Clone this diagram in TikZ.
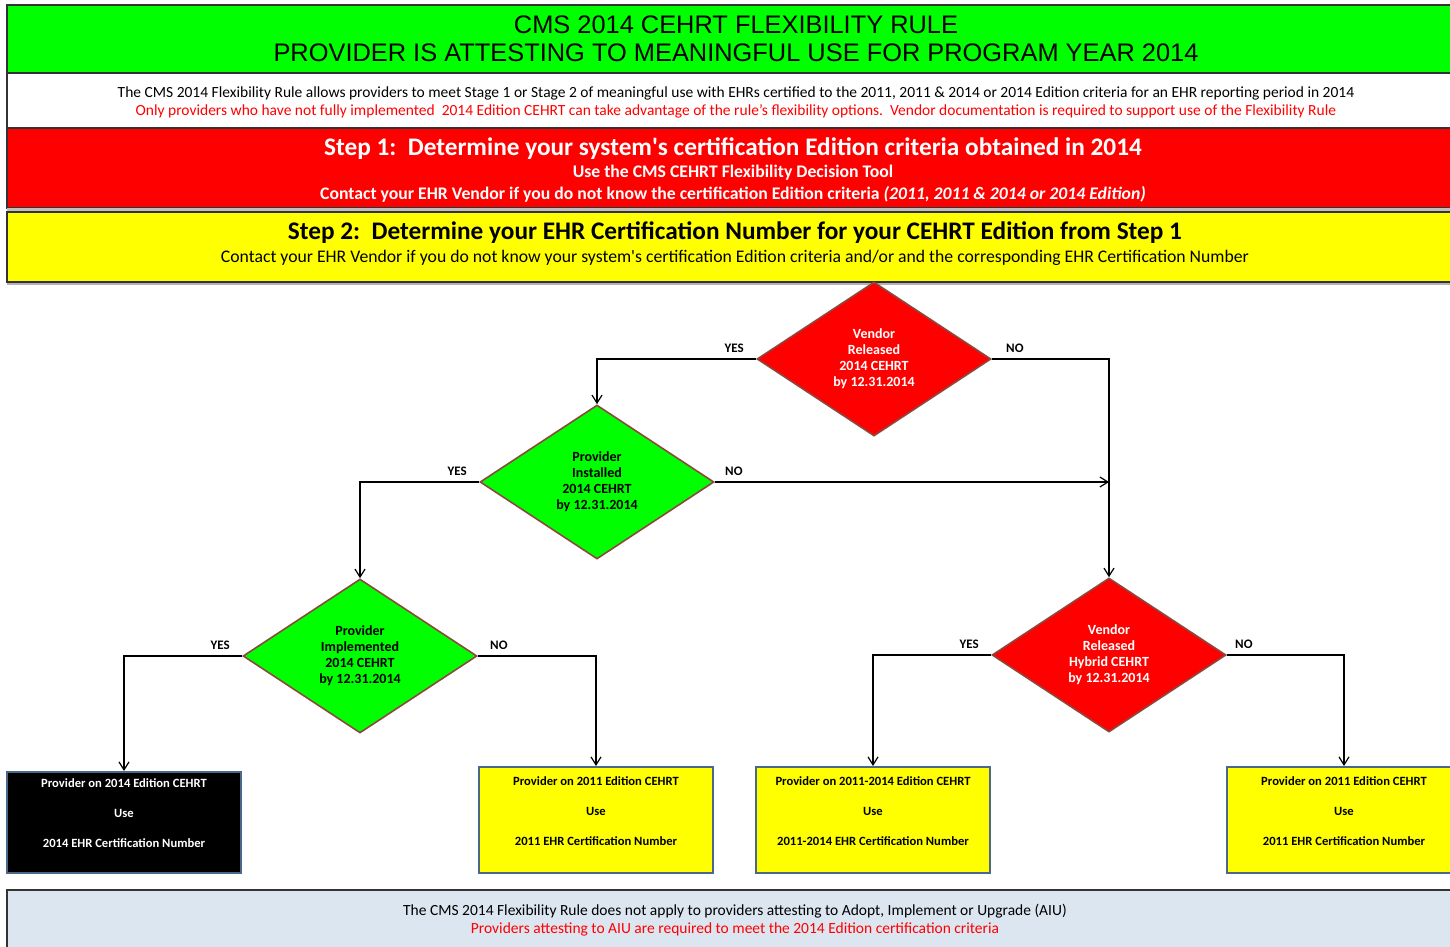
\documentclass[tikz,border=0pt]{standalone}
\usepackage{fontspec}
\setmainfont{Carlito}
\newfontfamily\headfont{Liberation Sans}
\usepackage{tikz}
\usetikzlibrary{arrows.meta,positioning,shapes.geometric}
\definecolor{cgreen}{RGB}{0,255,0}
\definecolor{cred}{RGB}{255,0,0}
\definecolor{cyellow}{RGB}{255,255,0}
\definecolor{footfill}{RGB}{220,230,241}
\definecolor{boxborder}{RGB}{74,104,140}
\definecolor{diaborder}{RGB}{140,72,62}
\newcommand{\fs}[2]{\fontsize{#1}{#2}\selectfont}

\begin{document}
\begin{tikzpicture}[x=0.5pt, y=-0.5pt,
    band/.style={draw=black!80, line width=0.8pt},
    decision/.style={diamond, draw=diaborder, line width=0.8pt, inner sep=0pt,
        minimum width=117pt, minimum height=77pt, aspect=1.52, align=center,
        font=\fs{7}{8}\bfseries},
    outbox/.style={rectangle, draw=boxborder, line width=1pt, minimum width=117pt, minimum height=53pt},
    boxtext/.style={align=center, font=\fs{6.3}{15}\bfseries},
    yn/.style={font=\fs{6.5}{8}\bfseries, inner sep=0pt},
    flow/.style={line width=0.6pt, -{Straight Barb[length=4pt,width=5pt]}}]
    \useasboundingbox (0,0) rectangle (1450,947);

    % title
    \fill[white] (0,0) rectangle (1450,947);
    \draw[band, fill=cgreen] (7,5) rectangle (1465,73);
    \node[font=\headfont\fs{12.7}{14}, align=center] (title) at (736,39)
        {CMS 2014 CEHRT FLEXIBILITY RULE\\PROVIDER IS ATTESTING TO MEANINGFUL USE FOR PROGRAM YEAR 2014};

    % intro
    \draw[band, fill=white] (7,73) rectangle (1465,128);
    \node[font=\fs{7.75}{9}, align=center] (intro) at (736,102)
        {The CMS 2014 Flexibility Rule allows providers to meet Stage 1 or Stage 2 of meaningful use with EHRs certified to the 2011, 2011 \& 2014 or 2014 Edition criteria for an EHR reporting period in 2014\\
        \textcolor{cred}{Only providers who have not fully implemented\ \ 2014 Edition CEHRT can take advantage of the rule's flexibility options.\ \ Vendor documentation is required to support use of the Flexibility Rule}};

    % Step 1
    \draw[band, fill=cred] (7,128) rectangle (1465,208);
    \node[font=\fs{12.65}{14}\bfseries, text=white] (step1) at (733,149)
        {Step 1:\ \ Determine your system\textquotesingle s certification Edition criteria obtained in 2014};
    \node[font=\fs{8.85}{9}\bfseries, text=white] (tool) at (733,173)
        {Use the CMS CEHRT Flexibility Decision Tool};
    \node[font=\fs{8.85}{9}\bfseries, text=white] (vendor1) at (733,194)
        {Contact your EHR Vendor if you do not know the certification Edition criteria \textit{(2011, 2011 \& 2014 or 2014 Edition)}};

    % Step 2
    \fill[black!25] (7,208) rectangle (1465,212);
    \draw[band, fill=cyellow] (7,212) rectangle (1465,282);
    \draw[black!30, line width=1pt] (7,284) -- (1465,284);
    \node[font=\fs{12.65}{14}\bfseries] (step2) at (735,233)
        {Step 2:\ \ Determine your EHR Certification Number for your CEHRT Edition from Step 1};
    \node[font=\fs{8.85}{9}] (vendor2) at (735,258)
        {Contact your EHR Vendor if you do not know your system\textquotesingle s certification Edition criteria and/or and the corresponding EHR Certification Number};

    % decisions
    \node[decision, fill=cred, text=white] (d1) at (874,359) {Vendor\\Released\\2014 CEHRT\\by 12.31.2014};
    \node[decision, fill=cgreen] (d2) at (597,482) {Provider\\Installed\\2014 CEHRT\\by 12.31.2014};
    \node[decision, fill=cgreen] (d3) at (360,656) {Provider\\Implemented\\2014 CEHRT\\by 12.31.2014};
    \node[decision, fill=cred, text=white] (d4) at (1109,655) {Vendor\\Released\\Hybrid CEHRT\\by 12.31.2014};

    % outcomes
    \node[outbox, fill=black, minimum height=50.5pt] (b1) at (124,822.5) {};
    \node[boxtext, text=white] (b1t) at (124,813) {Provider on 2014 Edition CEHRT\\Use\\2014 EHR Certification Number};
    \node[outbox, fill=cyellow] (b2) at (596,820) {};
    \node[boxtext] (b2t) at (596,811) {Provider on 2011 Edition CEHRT\\Use\\2011 EHR Certification Number};
    \node[outbox, fill=cyellow] (b3) at (873,820) {};
    \node[boxtext] (b3t) at (873,811) {Provider on 2011-2014 Edition CEHRT\\Use\\2011-2014 EHR Certification Number};
    \node[outbox, fill=cyellow] (b4) at (1344,820) {};
    \node[boxtext] (b4t) at (1344,811) {Provider on 2011 Edition CEHRT\\Use\\2011 EHR Certification Number};

    % connectors
    \draw[flow] (d1.west) -| (d2.north);
    \draw[flow] (d1.east) -| (d4.north);
    \draw[flow] (d2.west) -| (d3.north);
    \draw[flow] (d2.east) -- (d2.east -| d4.north);
    \draw[flow] (d3.west) -| (b1.north);
    \draw[flow] (d3.east) -| (b2.north);
    \draw[flow] (d4.west) -| (b3.north);
    \draw[flow] (d4.east) -| (b4.north);

    % yes / no
    \node[yn, above left=3pt and 6pt of d1.west] (y1) {YES};
    \node[yn, above right=3pt and 7pt of d1.east] (n1) {NO};
    \node[yn, above left=3pt and 6pt of d2.west] (y2) {YES};
    \node[yn, above right=3pt and 5pt of d2.east] (n2) {NO};
    \node[yn, above left=3pt and 6pt of d3.west] (y3) {YES};
    \node[yn, above right=3pt and 6pt of d3.east] (n3) {NO};
    \node[yn, above left=3pt and 6pt of d4.west] (y4) {YES};
    \node[yn, above right=3pt and 4pt of d4.east] (n4) {NO};

    % AIU
    \draw[band, fill=footfill] (7,890) rectangle (1465,960);
    \node[font=\fs{7.75}{9}, align=center] (aiu) at (735,920)
        {The CMS 2014 Flexibility Rule does not apply to providers attesting to Adopt, Implement or Upgrade (AIU)\\
        \textcolor{cred}{Providers attesting to AIU are required to meet the 2014 Edition certification criteria}};
\end{tikzpicture}
\end{document}
